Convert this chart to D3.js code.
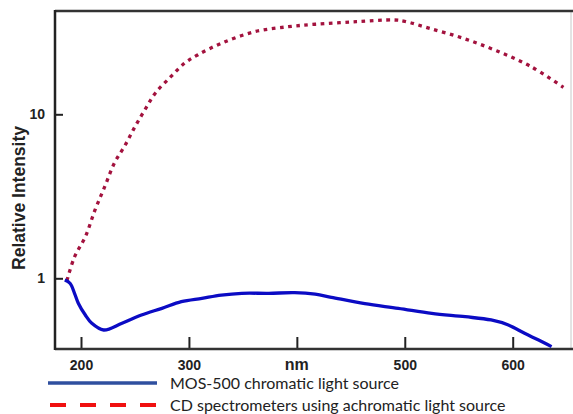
<!DOCTYPE html>
<html>
<head>
<meta charset="utf-8">
<script src="https://cdn.jsdelivr.net/npm/d3@7"></script>
<style>
  body { margin: 0; background: #fff; }
  svg { display: block; }
  .tick text { font-family: "Liberation Sans", Arial, sans-serif; font-weight: bold; font-size: 14px; fill: #222; }
</style>
</head>
<body>
<div id="chart"></div>
<script>
// wavelength (nm) / relative intensity
let cdNm  = [187, 194, 204, 213, 222, 231, 241, 250, 259, 269, 283, 296, 308, 330, 361, 392, 417, 455, 490, 500, 523, 554, 585, 616, 647];
let cdVal = [0.97, 1.35, 1.79, 2.61, 3.62, 5.05, 6.5, 8.4, 10.6, 13.5, 16.9, 20.5, 23.0, 27.1, 31.9, 34.2, 35.4, 36.7, 37.6, 36.9, 33.4, 29.1, 24.4, 19.7, 14.6];

let mosNm  = [185, 190, 194, 197.5, 204, 210, 221, 238, 256, 275, 293, 312, 330, 349, 374, 398, 417, 432, 463, 494, 525, 556, 580, 596, 611, 624, 636];
let mosVal = [0.975, 0.93, 0.81, 0.705, 0.597, 0.532, 0.484, 0.532, 0.597, 0.656, 0.72, 0.755, 0.79, 0.81, 0.81, 0.817, 0.80, 0.766, 0.70, 0.656, 0.611, 0.583, 0.557, 0.519, 0.462, 0.42, 0.383];

let xTicks = [200, 300, 400, 500, 600];
let yTicks = [1, 10];

let legendLabels = ["MOS-500 chromatic light source", "CD spectrometers using achromatic light source"];

let width = 573, height = 414;
let plot = {left: 55, right: 573, top: 11, bottom: 349};

let svg = d3.select("#chart").append("svg")
    .attr("width", width)
    .attr("height", height);

// scales
let x = d3.scaleLinear().domain([200, 600]).range([81, 512.7]);
let y = d3.scaleLog().domain([1, 10]).range([278.3, 114.3]);

// frame
svg.append("line")
    .attr("x1", plot.right - 2).attr("x2", plot.right - 2)
    .attr("y1", plot.top).attr("y2", plot.bottom)
    .attr("stroke", "#c8c8c8").attr("stroke-width", 1);
svg.append("line")
    .attr("x1", plot.left).attr("x2", plot.right)
    .attr("y1", plot.top).attr("y2", plot.top)
    .attr("stroke", "#333").attr("stroke-width", 2.5);

// x axis (400 carries the "nm" title instead of a number)
let xAxis = d3.axisBottom(x)
    .tickValues(xTicks)
    .tickSizeInner(-12)
    .tickSizeOuter(0)
    .tickPadding(11)
    .tickFormat(d => d);

let gx = svg.append("g")
    .attr("transform", `translate(0,${plot.bottom})`)
    .call(xAxis);
gx.select(".domain").remove();
gx.selectAll(".tick line").attr("stroke", "#222").attr("stroke-width", 2);
gx.selectAll(".tick text").filter(d => d === 400).remove();

svg.append("line")
    .attr("x1", plot.left).attr("x2", plot.right)
    .attr("y1", plot.bottom).attr("y2", plot.bottom)
    .attr("stroke", "#333").attr("stroke-width", 2.5);

// y axis
let yAxis = d3.axisLeft(y)
    .tickValues(yTicks)
    .tickSizeInner(-8)
    .tickSizeOuter(0)
    .tickPadding(10)
    .tickFormat(d3.format("d"));

let gy = svg.append("g")
    .attr("transform", `translate(${plot.left},0)`)
    .call(yAxis);
gy.select(".domain").remove();
gy.selectAll(".tick line").attr("stroke", "#222").attr("stroke-width", 2);

svg.append("line")
    .attr("x1", plot.left).attr("x2", plot.left)
    .attr("y1", plot.top - 1).attr("y2", plot.bottom + 1)
    .attr("stroke", "#222").attr("stroke-width", 2.5);

// axis titles
svg.append("text")
    .attr("x", x(400)).attr("y", 370)
    .attr("text-anchor", "middle")
    .attr("font-family", "Liberation Sans, Arial, sans-serif")
    .attr("font-weight", "bold").attr("font-size", 16)
    .attr("fill", "#222")
    .text("nm");

svg.append("text")
    .attr("transform", "translate(25,198) rotate(-90)")
    .attr("text-anchor", "middle")
    .attr("font-family", "Liberation Sans, Arial, sans-serif")
    .attr("font-weight", "bold").attr("font-size", 17.5)
    .attr("fill", "#222")
    .text("Relative Intensity");

// curves
let line = d3.line()
    .x(d => x(d[0]))
    .y(d => y(d[1]))
    .curve(d3.curveCatmullRom);

svg.append("path")
    .datum(d3.zip(cdNm, cdVal))
    .attr("fill", "none")
    .attr("stroke", "#a3123e")
    .attr("stroke-width", 3.3)
    .attr("stroke-dasharray", "3.6,4.6")
    .attr("d", line);

svg.append("path")
    .datum(d3.zip(mosNm, mosVal))
    .attr("fill", "none")
    .attr("stroke", "#0b0bc4")
    .attr("stroke-width", 3.3)
    .attr("stroke-linejoin", "round")
    .attr("d", line);

// legend
let legend = svg.append("g");
let legendY = [383, 405];

legend.append("line")
    .attr("x1", 48).attr("x2", 157)
    .attr("y1", legendY[0]).attr("y2", legendY[0])
    .attr("stroke", "#2f4f9f").attr("stroke-width", 3.5);
legend.append("line")
    .attr("x1", 50).attr("x2", 157)
    .attr("y1", legendY[1]).attr("y2", legendY[1])
    .attr("stroke", "#f01010").attr("stroke-width", 4)
    .attr("stroke-dasharray", "16,14");

legend.selectAll("text")
    .data(legendLabels)
    .enter().append("text")
    .attr("x", 170)
    .attr("y", (d, i) => legendY[i] + 6)
    .attr("font-family", "Lato, sans-serif")
    .attr("font-size", 16)
    .attr("fill", "#222")
    .text(d => d);
</script>
</body>
</html>
